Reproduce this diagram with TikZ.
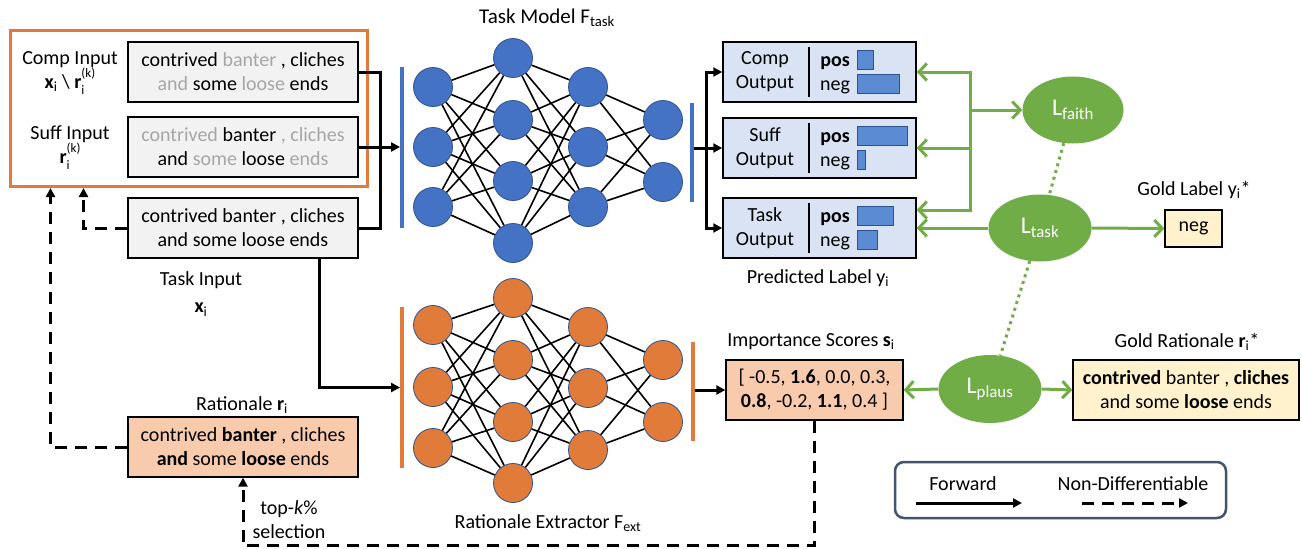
\documentclass[tikz,border=0pt]{standalone}
\usepackage{fontspec}
\setmainfont{Carlito}
\usetikzlibrary{arrows.meta,shapes.geometric,calc}
\definecolor{tblue}{HTML}{4472C4}
\definecolor{tblueD}{HTML}{2F528F}
\definecolor{torange}{HTML}{E07B39}
\definecolor{tgreen}{HTML}{70AD47}
\definecolor{boxgray}{HTML}{F2F2F2}
\definecolor{peach}{HTML}{F8CBAD}
\definecolor{cream}{HTML}{FFF2CC}
\definecolor{outblue}{HTML}{DAE3F3}
\definecolor{txtgray}{HTML}{A6A6A6}
\definecolor{legendc}{HTML}{44546A}
\definecolor{barblue}{HTML}{5B8BD3}
\newcommand{\gw}[1]{\textcolor{txtgray}{#1}}
\newcommand{\rik}{\textbf{r}\makebox[0pt][l]{\raisebox{-0.3em}{\fontsize{13}{13}\selectfont i}}\raisebox{0.55em}{\fontsize{13}{13}\selectfont (k)}}
\begin{document}
\begin{tikzpicture}[x=1pt,y=-1pt,
  every node/.style={font=\fontsize{20}{24}\selectfont, inner sep=0pt},
  tbox/.style={draw=black,line width=1.3pt,fill=boxgray,minimum width=230pt,minimum height=60pt,align=center},
  obox/.style={draw=black,line width=1.5pt,fill=outblue,minimum width=193pt,minimum height=60pt},
  neu/.style={circle,minimum size=39pt,draw=tblueD,line width=0.8pt},
  nedge/.style={line width=1.6pt,black},
  conn/.style={line width=3pt,black},
  arr/.style={conn,-{Triangle[length=9pt,width=9pt]}},
  dconn/.style={conn,dash pattern=on 12pt off 8pt},
  darr/.style={dconn,-{Triangle[length=9pt,width=9pt]}},
  gline/.style={line width=3pt,tgreen},
  garr/.style={gline,-{Straight Barb[length=8pt,width=17pt]}},
  gdot/.style={tgreen,line width=3pt,dash pattern=on 3pt off 4pt},
  loss/.style={ellipse,fill=tgreen,draw=none,minimum width=103pt,minimum height=67pt,text=white,font=\fontsize{24}{28}\selectfont},
  vbar/.style={minimum width=3.5pt,draw=none},
  barst/.style={fill=barblue,draw=tblueD,line width=1pt}
]
\useasboundingbox (0,0) rectangle (1302,549);

% ---------------- input boxes ----------------
\node[tbox] (comp) at (243,72) {contrived \gw{banter} , cliches\\\gw{and} some \gw{loose} ends};
\node[tbox] (suff) at (243,147) {\gw{contrived} banter \gw{, cliches}\\and \gw{some} loose \gw{ends}};
\node[tbox] (task) at (243,228) {contrived banter , cliches\\and some loose ends};
\node[tbox,fill=peach] (rat) at (243,447) {contrived \textbf{banter} , cliches\\\textbf{and} some \textbf{loose} ends};
\node[draw=torange,line width=3pt,minimum width=357pt,minimum height=156pt] (cf) at (188.5,108.5) {};

\node[align=center] (lcomp) at (70,73) {Comp Input\\\textbf{x}\textsubscript{i} \textbackslash{} \rik};
\node[align=center] (lsuff) at (70,148) {Suff Input\\\rik};
\node[align=center,font=\fontsize{20}{27}\selectfont] (ltask) at (201,294) {Task Input\\\textbf{x}\textsubscript{i}};
\node (lrat) at (242,405) {Rationale \textbf{r}\textsubscript{i}};
\node[align=center] (ltopk) at (289,520) {top-\textit{k}\%\\selection};

% ---------------- task model ----------------
\node[font=\fontsize{21}{25}\selectfont] (ltm) at (547,18) {Task Model F\textsubscript{task}};
\foreach \i/\yy in {1/87,2/147,3/207} \node[neu,fill=tblue] (TA\i) at (433,\yy) {};
\foreach \i/\yy in {1/58,2/120,3/181,4/243} \node[neu,fill=tblue] (TB\i) at (513,\yy) {};
\foreach \i/\yy in {1/87,2/147,3/207} \node[neu,fill=tblue] (TC\i) at (588,\yy) {};
\foreach \i/\yy in {1/120,2/182} \node[neu,fill=tblue] (TD\i) at (663,\yy) {};
\foreach \a in {1,2,3} \foreach \b in {1,2,3,4} \draw[nedge] (TA\a) -- (TB\b);
\foreach \a in {1,2,3,4} \foreach \b in {1,2,3} \draw[nedge] (TB\a) -- (TC\b);
\foreach \a in {1,2,3} \foreach \b in {1,2} \draw[nedge] (TC\a) -- (TD\b);
\node[vbar,fill=tblue,minimum height=161pt] (tin) at (402,147.5) {};
\node[vbar,fill=tblue,minimum height=99pt] (tout) at (692,152.5) {};

% ---------------- extractor ----------------
\node (lre) at (548,523) {Rationale Extractor F\textsubscript{ext}};
\foreach \i/\yy in {1/325,2/387,3/448} \node[neu,fill=torange] (EA\i) at (433,\yy) {};
\foreach \i/\yy in {1/298,2/360,3/422,4/483} \node[neu,fill=torange] (EB\i) at (513,\yy) {};
\foreach \i/\yy in {1/327,2/388,3/450} \node[neu,fill=torange] (EC\i) at (588,\yy) {};
\foreach \i/\yy in {1/360,2/422} \node[neu,fill=torange] (ED\i) at (663,\yy) {};
\foreach \a in {1,2,3} \foreach \b in {1,2,3,4} \draw[nedge] (EA\a) -- (EB\b);
\foreach \a in {1,2,3,4} \foreach \b in {1,2,3} \draw[nedge] (EB\a) -- (EC\b);
\foreach \a in {1,2,3} \foreach \b in {1,2} \draw[nedge] (EC\a) -- (ED\b);
\node[vbar,fill=torange,minimum height=161pt] (ein) at (402,387.5) {};
\node[vbar,fill=torange,minimum height=99pt] (eout) at (693,391.5) {};

% ---------------- outputs ----------------
\foreach \nm/\yy/\lab/\pw/\nw in {compo/72/Comp/16/42, suffo/148/Suff/50/8, taskout/228/Task/36/20}{
  \node[obox] (\nm) at (819.5,\yy) {};
  \node[align=center] (\nm-l) at (765,\yy) {\lab\\Output};
  \draw[line width=1.5pt] (809,{\yy-25}) -- (809,{\yy+25});
  \node[anchor=base] (\nm-p) at (835,{\yy-6}) {\textbf{pos}};
  \node[anchor=base] (\nm-n) at (835,{\yy+18}) {neg};
  \draw[barst] (857,{\yy-21.5}) rectangle ++(\pw,19);
  \draw[barst] (857,{\yy+2.5}) rectangle ++(\nw,19);
}
\node (lpred) at (818,278) {Predicted Label y\textsubscript{i}};

% ---------------- importance / gold ----------------
\node[tbox,fill=peach,minimum width=177pt] (imp) at (814.5,390) {[ -0.5, \textbf{1.6}, 0.0, 0.3,\\\textbf{0.8}, -0.2, \textbf{1.1}, 0.4 ]};
\node (limp) at (811,342) {Importance Scores \textbf{s}\textsubscript{i}};
\node[tbox,fill=cream,minimum width=226pt] (grat) at (1186,390) {\textbf{contrived} banter , \textbf{cliches}\\and some \textbf{loose} ends};
\node (lgrat) at (1187,342) {Gold Rationale \textbf{r}\textsubscript{i}*};
\node[draw=black,line width=1.3pt,fill=cream,minimum width=57pt,minimum height=37pt] (gold) at (1193.5,228.5) {neg};
\node (lgold) at (1194,190) {Gold Label y\textsubscript{i}*};

% ---------------- losses ----------------
\node[loss,minimum width=101pt] (Lfaith) at (1073,110) {L\textsubscript{faith}};
\node[loss] (Ltask) at (1040,228) {L\textsubscript{task}};
\node[loss,minimum width=103pt,minimum height=68pt] (Lplaus) at (990,389) {L\textsubscript{plaus}};

% ---------------- connectors ----------------
\coordinate (jin) at (380,147);
\draw[conn] (comp.east) -| (jin) |- (task.east);
\draw[arr] (suff.east) -- (tin.west |- suff.east);
\coordinate (tk) at (319,387.5);
\draw[arr] (task.south -| tk) |- (ein.west);
\coordinate (jout) at (706,148);
\draw[conn] (tout.east |- jout) -- (jout);
\draw[arr] (jout) |- (compo.west);
\draw[arr] (jout) -- (suffo.west);
\draw[arr] (jout) |- (taskout.west);
\draw[arr] (eout.east |- imp.west) -- (imp.west);

\draw[darr] (task.west) -| ([xshift=75pt]cf.south west);
\draw[darr] (rat.west) -| ([xshift=42pt]cf.south west);
\coordinate (db) at (0,545.5);
\draw[darr] (imp.south) -- (imp.south |- db) -| (rat.south);

\coordinate (gj) at (970,110);
\draw[garr] (gj) -- (Lfaith.west);
\draw[garr] (gj) |- (compo.east);
\draw[garr] (gj) |- (suffo.east);
\draw[garr] (gj) |- ([yshift=18pt]taskout.east);
\draw[garr] (Ltask.west) -- (taskout.east);
\draw[garr] (Ltask.east) -- (gold.west);
\draw[garr] (Lplaus.west) -- (imp.east);
\draw[garr] (Lplaus.east) -- (grat.west);
\draw[gdot] (Lfaith) -- (Ltask);
\draw[gdot] (Ltask) -- (Lplaus);

% ---------------- legend ----------------
\node[draw=legendc,line width=2.5pt,rounded corners=9pt,minimum width=331pt,minimum height=56pt] (legend) at (1060.5,490) {};
\node (lfw) at (963,484) {Forward};
\node (lnd) at (1133,484) {Non-Differentiable};
\coordinate (fa) at (916,503); \coordinate (fb) at (1022,503);
\coordinate (na) at (1082,503); \coordinate (nb) at (1188,503);
\draw[arr] (fa) -- (fb);
\draw[darr] (na) -- (nb);
\end{tikzpicture}
\end{document}
